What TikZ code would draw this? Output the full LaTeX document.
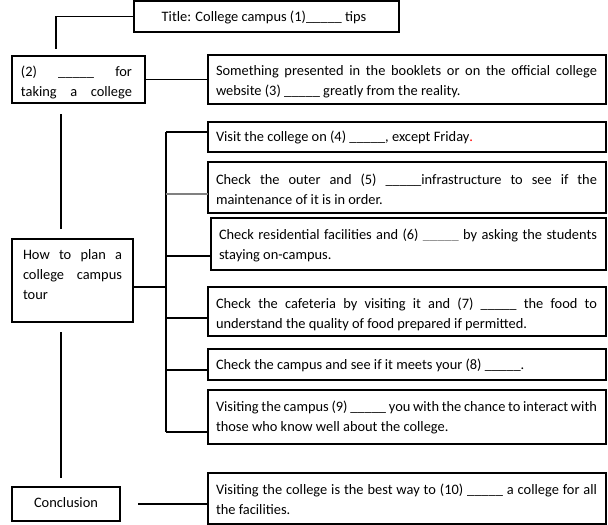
\documentclass[tikz,border=0pt]{standalone}
\usepackage{fontspec}
\setmainfont{Carlito}
\newcommand\pxbox[5]{\node[bx,minimum width={(#4-#2)*0.75pt},minimum height={(#5-#3)*0.75pt}] (#1) at (#2,#3) {};}
\newcommand\blank{\_\_\_\_\_}
\begin{document}
\begin{tikzpicture}[x=0.75pt,y=-0.75pt,
  bx/.style={draw,line width=0.8pt,inner sep=0pt,outer sep=0pt,anchor=north west},
  tx/.style={inner sep=0pt,outer sep=0pt,anchor=base west,font=\fontsize{10.8}{15}\selectfont,align=justify},
  rt/.style={tx,text width=285.75pt},
  ln/.style={line width=0.8pt}]
\useasboundingbox (0,0) rectangle (608,525);
% boxes
\pxbox{title}{134}{1}{399}{32}
\pxbox{b2}{12}{56}{145}{103}
\pxbox{how}{12}{239}{133}{322}
\pxbox{conc}{12}{487}{120}{521}
\pxbox{r0}{208}{55}{606}{104}
\pxbox{r1}{208}{122}{606}{152}
\pxbox{r2}{208}{162}{606}{213}
\pxbox{r3}{211}{218}{606}{270}
\pxbox{r4}{208}{287}{606}{336}
\pxbox{r5}{208}{349}{606}{380}
\pxbox{r6}{208}{390}{606}{444}
\pxbox{r7}{208}{473}{606}{524}
% texts
\node[tx,anchor=base] (titlet) at (264,21) {Title: College campus (1)\blank\ tips};
\node[tx,text width=83.25pt] (b2t) at (21,76) {(2)\hfill\blank\hfill for\\taking\hfill a\hfill college};
\node[tx,text width=74.25pt] (howt) at (23,259) {How to plan a\linebreak college campus\linebreak tour};
\node[tx,anchor=base] (conct) at (66,507) {Conclusion};
\node[rt] (r0t) at (216,75) {Something presented in the booklets or on the official college\linebreak website (3) \blank\ greatly from the reality.};
\node[rt] (r1t) at (216,141) {Visit the college on (4) \blank, except Friday\textcolor{red}{.}};
\node[rt] (r2t) at (216,184) {Check the outer and (5) \blank infrastructure to see if the\linebreak maintenance of it is in order.};
\node[tx,text width=283.5pt] (r3t) at (219,239) {Check residential facilities and (6) \textcolor{gray}{\blank} by asking the students\linebreak staying on-campus.};
\node[rt] (r4t) at (216,308) {Check the cafeteria by visiting it and (7) \blank\ the food to\linebreak understand the quality of food prepared if permitted.};
\node[rt] (r5t) at (216,369) {Check the campus and see if it meets your (8) \blank.};
\node[rt] (r6t) at (216,411) {Visiting the campus (9) \blank\ you with the chance to interact with\linebreak those who know well about the college.};
\node[rt] (r7t) at (216,494) {Visiting the college is the best way to (10) \blank\ a college for all\linebreak the facilities.};
% connector points
\coordinate (c1) at (56,49);
\coordinate (v1a) at (61,114);
\coordinate (v1b) at (61,229);
\coordinate (v2a) at (61,332);
\coordinate (v2b) at (61,478);
\coordinate (hj) at (166,287);
\coordinate (k1) at (166,132);
\coordinate (k2) at (166,194);
\coordinate (k3) at (166,256);
\coordinate (k4) at (166,318);
\coordinate (k5) at (166,370);
\coordinate (k6) at (166,432);
\coordinate (cj) at (138,504);
% connectors
\draw[ln] (title.west) -| (c1);
\draw[ln] (b2.east) -- (r0.west);
\draw[ln] (v1a) -- (v1b);
\draw[ln] (v2a) -- (v2b);
\draw[ln] (how.east |- hj) -- (hj);
\draw[ln] (k1) -- (k6);
\draw[ln] (k1) -- (r1.west |- k1);
\draw[ln,draw=gray] (k2) -- (r2.west |- k2);
\draw[ln] (k3) -- (r3.west |- k3);
\draw[ln] (k4) -- (r4.west |- k4);
\draw[ln] (k5) -- (r5.west |- k5);
\draw[ln] (k6) -- (r6.west |- k6);
\draw[ln] (cj) -- (r7.west |- cj);
\end{tikzpicture}
\end{document}
